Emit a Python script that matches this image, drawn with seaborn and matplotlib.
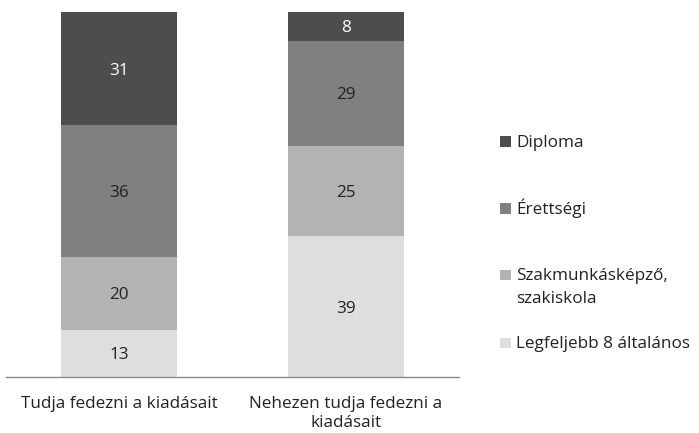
import numpy as np
import pandas as pd
import matplotlib
matplotlib.use("Agg")
import matplotlib.pyplot as plt
from matplotlib.patches import Rectangle
import seaborn as sns

categories = ["Tudja fedezni a kiadásait", "Nehezen tudja fedezni a\nkiadásait"]
series = ["Legfeljebb 8 általános", "Szakmunkásképző,\nszakiskola", "Érettségi", "Diploma"]
legf = [13, 39]
szak = [20, 25]
eretts = [36, 29]
diploma = [31, 8]
colors = ["#dedede", "#b3b3b3", "#808080", "#4d4d4d"]
text_colors = ["#222222", "#222222", "#222222", "#ffffff"]

sns.set_theme(style="white")
plt.rcParams["font.family"] = ["Open Sans", "DejaVu Sans"]

vals = np.array([legf, szak, eretts, diploma], dtype=float)
totals = vals.sum(axis=0)
shares = vals / totals * 100
cum = np.cumsum(shares, axis=0)

fig = plt.figure(figsize=(6.99, 4.33), dpi=100)
W, H = 699, 433
ax = fig.add_axes([6 / W, (H - 377) / H, 453 / W, 365 / H])

for i in range(len(series) - 1, -1, -1):
    df = pd.DataFrame({"cat": categories, "val": cum[i]})
    sns.barplot(data=df, x="cat", y="val", color=colors[i], saturation=1,
                width=0.51, ax=ax, linewidth=0, edgecolor="none")

FS = 12.3
for i in range(len(series)):
    for j in range(len(categories)):
        mid = cum[i, j] - shares[i, j] / 2
        ax.text(j, mid, f"{int(vals[i, j])}", ha="center", va="center_baseline",
                fontsize=FS, color=text_colors[i])

ax.set_ylim(0, 100)
ax.set_xlim(-0.5, 1.5)
ax.set_xlabel("")
ax.set_ylabel("")
ax.set_yticks([])
ax.tick_params(axis="x", length=0, pad=14, labelsize=FS, labelcolor="#222222")
for lbl in ax.get_xticklabels():
    lbl.set_linespacing(1.2)
for s in ["top", "left", "right"]:
    ax.spines[s].set_visible(False)
ax.spines["bottom"].set_color("#8c8c8c")
ax.spines["bottom"].set_linewidth(1.0)

# Legend (manual, top to bottom: Diploma first); y = baseline of first line
leg_base = [147, 214, 280, 348]
for k, i in enumerate(range(len(series) - 1, -1, -1)):
    y = leg_base[k]
    fig.patches.append(Rectangle((500 / W, 1 - y / H), 10.5 / W, 10.5 / H,
                                 transform=fig.transFigure, facecolor=colors[i],
                                 edgecolor="none"))
    lines = series[i].split("\n")
    for n, line in enumerate(lines):
        fig.text(516 / W, 1 - (y + n * 23) / H, line, ha="left", va="baseline",
                 fontsize=FS, color="#222222")

fig.savefig("out.png", dpi=100)
